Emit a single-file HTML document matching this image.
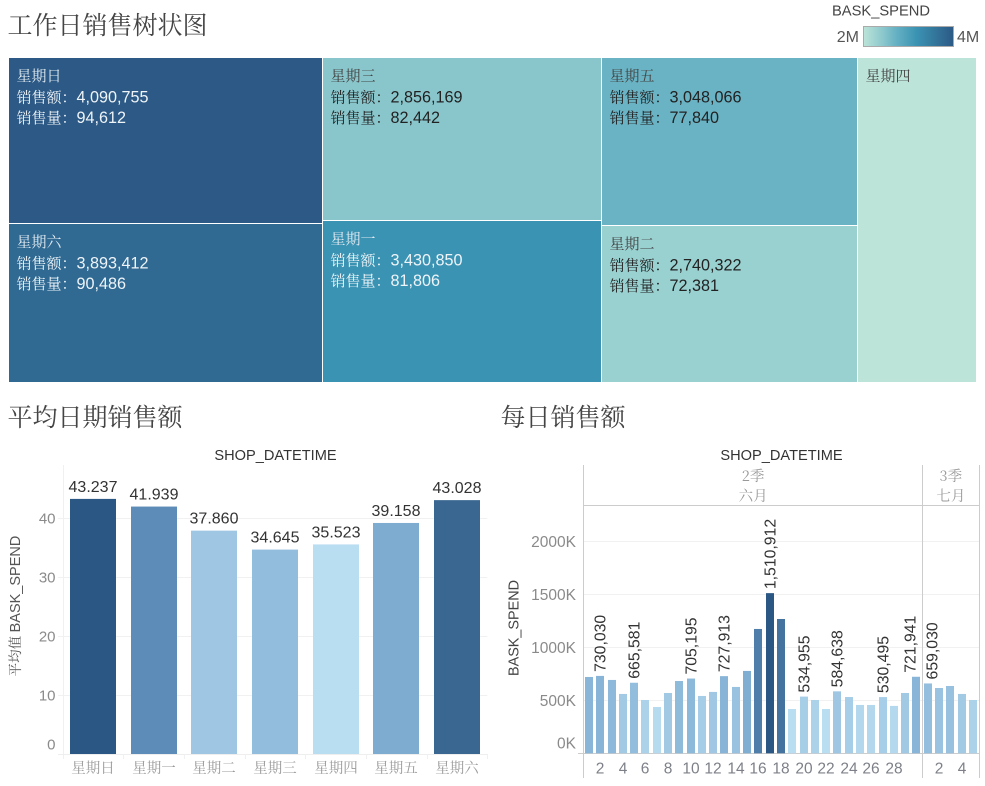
<!DOCTYPE html>
<html lang="zh">
<head>
<meta charset="utf-8">
<title>工作日销售</title>
<style>
html,body{margin:0;padding:0;background:#fff;width:985px;height:786px;overflow:hidden}
svg{display:block}
text{font-family:"Liberation Sans","Noto Serif CJK SC",serif}
.cjk{font-family:"Noto Serif CJK SC","Liberation Serif",serif}
.ttl{font-family:"Noto Serif CJK SC","Liberation Serif",serif;font-size:25px;fill:#444}
</style>
</head>
<body>
<svg id="root" xmlns="http://www.w3.org/2000/svg" width="985" height="786" viewBox="0 0 985 786">
  <defs>
    <linearGradient id="legend-gradient">
      <stop offset="0" stop-color="#bce4d8"/>
      <stop offset="0.225" stop-color="#89c6cc"/>
      <stop offset="0.347" stop-color="#69b3c4"/>
      <stop offset="0.586" stop-color="#3b93b3"/>
      <stop offset="1" stop-color="#2c5985"/>
    </linearGradient>
  </defs>
  <text class="ttl" x="7.5" y="34">工作日销售树状图</text>
  <text class="ttl" x="7.5" y="426">平均日期销售额</text>
  <text class="ttl" x="500.5" y="426">每日销售额</text>

  <g>
    <text x="881" y="15.5" font-size="14.7" fill="#444" text-anchor="middle">BASK_SPEND</text>
    <rect x="863.5" y="26.5" width="90" height="20" fill="url(#legend-gradient)" stroke="#aaa"/>
    <text x="859" y="42" font-size="16" fill="#555" text-anchor="end">2M</text>
    <text x="957" y="42" font-size="16" fill="#555">4M</text>
  </g>

  <g id="treemap"></g>
  <g id="avg"></g>
  <g id="daily"></g>
</svg>
<script>
// Weekday data
const weekdays = ['星期日','星期一','星期二','星期三','星期四','星期五','星期六'];
const weekdaySpend = [4090755, 3430850, 2740322, 2856169, 2497000, 3048066, 3893412];
const weekdayQuantity = [94612, 81806, 72381, 82442, 70000, 77840, 90486];
const weekdayShowDetail = [true, true, true, true, false, true, true];
const treemapColumns = [[0,6],[3,1],[5,2],[4]];
const weekdayAverage = [43.237, 41.939, 37.860, 34.645, 35.523, 39.158, 43.028];
const averageTicks = [0, 10, 20, 30, 40];

// Daily data
const dailyDays = [1,2,3,4,5,6,7,8,9,10,11,12,13,14,15,16,17,18,19,20,21,22,23,24,25,26,27,28,29,30,1,2,3,4,5];
const dailySpend = [720000,730030,692000,560000,665581,503000,437000,569000,682000,705195,541000,579000,727913,626000,777000,1173000,1510912,1267000,418000,534955,503000,418000,584638,531000,456000,456000,530495,447000,569000,721941,659030,616000,635000,560000,503000];
const dailyShowValue = [false,true,false,false,true,false,false,false,false,true,false,false,true,false,false,false,true,false,false,true,false,false,true,false,false,false,true,false,false,true,true,false,false,false,false];
const dailyTicks = [0, 500000, 1000000, 1500000, 2000000];
const dailyPanes = [{quarter:'2季', month:'六月', count:30},{quarter:'3季', month:'七月', count:5}];

const NS = 'http://www.w3.org/2000/svg';
function make(parent, tag, props, txt){
  const e = document.createElementNS(NS, tag);
  for (const k in props) e.setAttribute(k, props[k]);
  if (txt !== undefined) e.textContent = txt;
  parent.appendChild(e);
  return e;
}
function hex(c){return [parseInt(c.slice(1,3),16),parseInt(c.slice(3,5),16),parseInt(c.slice(5,7),16)];}
function ramp(stops, t){
  t = Math.max(0, Math.min(1, t));
  for (let i = 1; i < stops.length; i++){
    if (t <= stops[i][0]){
      const a = stops[i-1], b = stops[i], u = (t-a[0])/(b[0]-a[0]);
      const ca = hex(a[1]), cb = hex(b[1]);
      return 'rgb(' + ca.map((v,j)=>Math.round(v+(cb[j]-v)*u)).join(',') + ')';
    }
  }
  return stops[stops.length-1][1];
}
const tealStops = [[0,'#bce4d8'],[0.225,'#89c6cc'],[0.347,'#69b3c4'],[0.586,'#3b93b3'],[1,'#2c5985']];
const blueStops = [[0,'#b9ddf1'],[0.33,'#80aed3'],[0.6,'#5a8ab5'],[1,'#2a5783']];
const fmt = v => v.toLocaleString('en-US');

const spendMin = Math.min(...weekdaySpend), spendMax = Math.max(...weekdaySpend);
const spendT = v => (v - spendMin) / (spendMax - spendMin);

// Treemap
(function(){
  const g = document.getElementById('treemap');
  const X0 = 9, Y0 = 58, W = 968.2, H = 325;
  const total = weekdayQuantity.reduce((a,b)=>a+b,0);
  let x = X0;
  treemapColumns.forEach(col => {
    const sum = col.reduce((a,i)=>a+weekdayQuantity[i],0);
    const w = W * sum / total;
    let y = Y0;
    col.forEach(i => {
      const h = H * weekdayQuantity[i] / sum;
      const t = spendT(weekdaySpend[i]);
      const px = Math.floor(x), py = Math.round(y);
      const r = make(g,'rect',{x:px,y:py,width:Math.floor(x+w)-px-1,height:Math.round(y+h)-py-1,fill:ramp(tealStops,t)});
      
      
      const dark = t > 0.5;
      const tx = px + 7.5, ty = py;
      const nameEl = make(g,'text',{class:'cjk',x:tx,y:ty+23,'font-size':15,fill:dark?'#dfe9f0':'#444'},weekdays[i]);
      
      
      if (weekdayShowDetail[i]){
        const fill = dark ? '#eef4f8' : '#222';
        const a = make(g,'text',{x:tx,y:ty+44.5,'font-size':16.2,fill:fill},'');
        
        
        make(a,'tspan',{class:'cjk','font-size':15},'销售额：');
        make(a,'tspan',{},fmt(weekdaySpend[i]));
        const b = make(g,'text',{x:tx,y:ty+65,'font-size':16.2,fill:fill},'');
        
        
        make(b,'tspan',{class:'cjk','font-size':15},'销售量：');
        make(b,'tspan',{},fmt(weekdayQuantity[i]));
      }
      y += h;
    });
    x += w;
  });
})();

// Average chart
(function(){
  const g = document.getElementById('avg');
  const base = 754, unit = 5.9, left = 62.67, right = 487.36;
  const band = (right-left)/weekdays.length, barW = 46;
  const yA = v => base - v*unit;
  const xA = i => left + band*(i+0.5);
  const head = make(g,'text',{x:275.5,y:460,'font-size':14.6,fill:'#333','text-anchor':'middle'},'SHOP_DATETIME');
  
  
  averageTicks.forEach(v => {
    if (v !== 0){
      const l = make(g,'line',{x1:58,x2:right,y1:yA(v)+.5,y2:yA(v)+.5,stroke:'#f1f1f1'});
      
      
    }
    const t = make(g,'text',{x:55.5,y:Math.min(yA(v),744)+5.5,'font-size':15,fill:'#8a8a8a','text-anchor':'end'},String(v));
    
    
  });
  const ya = make(g,'line',{x1:63.5,x2:63.5,y1:465,y2:759,stroke:'#f0f0f0'});
  
  
  const bl = make(g,'line',{x1:58,x2:right,y1:base+.5,y2:base+.5,stroke:'#eee'});
  
  
  const yt = make(g,'text',{transform:'translate(20,606) rotate(-90)','font-size':14.5,fill:'#555','text-anchor':'middle'},'');
  
  
  make(yt,'tspan',{class:'cjk','font-size':13.5},'平均值 ');
  make(yt,'tspan',{},'BASK_SPEND');
  weekdays.forEach((d,i) => {
    const tx = Math.round(left+band*(i+1))+.5;
    const tick = make(g,'line',{x1:tx,x2:tx,y1:base,y2:759,stroke:'#f0f0f0'});
    
    
    const bx = Math.round(xA(i)-barW/2);
    const r = make(g,'rect',{x:bx,y:yA(weekdayAverage[i]),width:barW,height:base-yA(weekdayAverage[i]),fill:ramp(blueStops,spendT(weekdaySpend[i]))});
    
    
    const val = make(g,'text',{x:bx+barW/2,y:yA(weekdayAverage[i])-7,'font-size':16,fill:'#333','text-anchor':'middle'},weekdayAverage[i].toFixed(3));
    
    
    const lab = make(g,'text',{class:'cjk',x:bx+barW/2,y:773,'font-size':14.5,fill:'#9a9a9a','text-anchor':'middle'},d);
    
    
  });
})();

// Daily chart
(function(){
  const g = document.getElementById('daily');
  const base = 753.3, perUnit = 53/500000, X0 = 585, step = 11.29, barW = 8;
  const yD = v => base - v*perUnit;
  const xD = i => X0 + step*i;
  const dMin = Math.min(...dailySpend), dMax = Math.max(...dailySpend);
  const head = make(g,'text',{x:781.5,y:460,'font-size':14.6,fill:'#333','text-anchor':'middle'},'SHOP_DATETIME');
  
  
  dailyTicks.forEach(v => {
    if (v !== 0){
      const l = make(g,'line',{x1:584,x2:979,y1:Math.round(yD(v))+.5,y2:Math.round(yD(v))+.5,stroke:'#f1f1f1'});
      
      
    }
    const t = make(g,'text',{x:576,y:Math.min(yD(v),743)+5.5,'font-size':15.5,fill:'#8a8a8a','text-anchor':'end'},(v/1000)+'K');
    
    
  });
  const yt = make(g,'text',{transform:'translate(518.5,628) rotate(-90)','font-size':14.4,fill:'#444','text-anchor':'middle'},'BASK_SPEND');
  
  
  const hh = make(g,'line',{x1:583.5,x2:979.5,y1:505.5,y2:505.5,stroke:'#ccc'});
  
  
  const ya = make(g,'line',{x1:583.5,x2:583.5,y1:465,y2:778,stroke:'#ccc'});
  
  
  const bl = make(g,'line',{x1:578,x2:979.5,y1:753.5,y2:753.5,stroke:'#ccc'});
  
  
  let start = 0, paneLeft = 584;
  dailyPanes.forEach(p => {
    const end = start + p.count;
    const paneRight = p === dailyPanes[dailyPanes.length-1] ? 979.5 : xD(end) - 1.5;
    const cx = (paneLeft + paneRight)/2;
    const q = make(g,'text',{class:'cjk',x:cx,y:481,'font-size':14.5,fill:'#999','text-anchor':'middle'},p.quarter);
    
    
    const m = make(g,'text',{class:'cjk',x:cx,y:501,'font-size':14.5,fill:'#999','text-anchor':'middle'},p.month);
    
    
    const v = make(g,'line',{x1:Math.floor(paneRight)+.5,x2:Math.floor(paneRight)+.5,y1:465,y2:778,stroke:'#ccc'});
    
    
    paneLeft = paneRight;
    start = end;
  });
  dailySpend.forEach((v,i) => {
    const x = Math.round(xD(i));
    const cx = x + barW/2;
    const r = make(g,'rect',{x:x,y:yD(v),width:barW,height:base-yD(v),fill:ramp(blueStops,(v-dMin)/(dMax-dMin))});
    
    
    if (dailyShowValue[i]){
      // The two labels either side of the pane divider are nudged apart.
      const nudge = i === 29 ? -6 : (i === 30 ? 4 : 0);
      const t = make(g,'text',{transform:'translate('+(cx+5.5+nudge)+','+(yD(v)-4)+') rotate(-90)','font-size':15.8,fill:'#333'},fmt(v));
      
      
    }
    if (dailyDays[i] % 2 === 0 && dailyDays[i] < 30){
      const l = make(g,'text',{x:cx,y:773.5,'font-size':15.5,fill:'#7d8088','text-anchor':'middle'},String(dailyDays[i]));
      
      
    }
  });
})();
</script>
</body>
</html>
